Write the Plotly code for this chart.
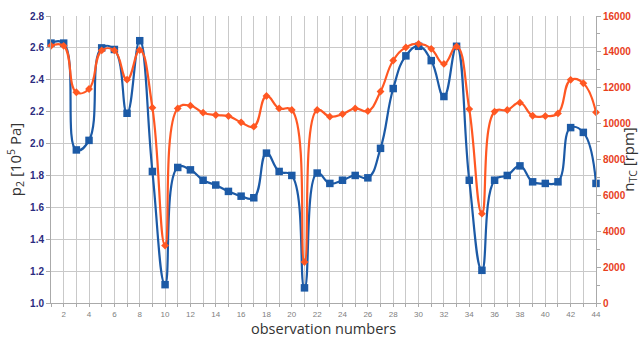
import plotly.graph_objects as go

# observation numbers 1..44
obs = list(range(1, 45))

# outlet pressure p2 [10^5 Pa]
p2 = [2.63, 2.63, 1.96, 2.02, 2.60, 2.59, 2.19, 2.645, 1.825, 1.115,
      1.85, 1.835, 1.77, 1.74, 1.70, 1.67, 1.66, 1.94, 1.825, 1.80,
      1.095, 1.815, 1.75, 1.77, 1.80, 1.785, 1.97, 2.345, 2.55, 2.61,
      2.52, 2.295, 2.61, 1.77, 1.205, 1.77, 1.80, 1.86, 1.76, 1.75,
      1.76, 2.10, 2.07, 1.75]

# turbocharger speed n_TC [rpm]
n_tc = [14340, 14340, 11750, 11930, 14080, 14080, 12450, 14100, 10890, 3200,
        10850, 11000, 10610, 10480, 10420, 10070, 9830, 11540, 10850, 10760,
        2280, 10760, 10390, 10530, 10850, 10700, 11790, 13520, 14250, 14450,
        14170, 13330, 14300, 10810, 4980, 10670, 10760, 11170, 10440, 10420,
        10570, 12440, 12250, 10630]

BLUE = "#1c5aa6"
ORANGE = "#ff5722"
GRID = "#c9c9c9"

fig = go.Figure()

fig.add_trace(go.Scatter(
    x=obs, y=p2, mode="lines+markers", yaxis="y",
    line=dict(color=BLUE, width=2.2, shape="spline", smoothing=1.3),
    marker=dict(symbol="square", size=7.5, color=BLUE),
    cliponaxis=False, showlegend=False,
))

fig.add_trace(go.Scatter(
    x=obs, y=n_tc, mode="lines+markers", yaxis="y2",
    line=dict(color=ORANGE, width=2.2, shape="spline", smoothing=1.3),
    marker=dict(symbol="diamond", size=6, color=ORANGE),
    cliponaxis=False, showlegend=False,
))

fig.update_layout(
    width=640, height=338,
    margin=dict(l=51, r=44, t=16, b=35),
    paper_bgcolor="white", plot_bgcolor="white",
    xaxis=dict(
        range=[1, 44], tick0=2, dtick=2, automargin=False,
        showgrid=True, gridcolor=GRID, gridwidth=1.2,
        minor=dict(dtick=1, tick0=1, showgrid=True, gridcolor=GRID, gridwidth=1.2,
                   ticks="outside", ticklen=3, tickcolor="#aaaaaa"),
        ticks="outside", ticklen=3, tickcolor="#aaaaaa",
        showline=True, linecolor="#aaaaaa", linewidth=1,
        zeroline=False,
        tickfont=dict(family="Liberation Sans, Arial", size=8, color="#808080"),
    ),
    yaxis=dict(
        range=[1.0, 2.8], dtick=0.2, tickformat=".1f", automargin=False,
        showgrid=True, gridcolor=GRID, gridwidth=1.2,
        ticks="outside", ticklen=4, tickcolor="#aaaaaa",
        showline=True, linecolor="#aaaaaa", linewidth=1,
        zeroline=False,
        tickfont=dict(family="Liberation Sans, Arial", size=10, color="#2b2b80", weight="bold"),
        title=dict(text="p<sub>2</sub> [10<sup>5</sup> Pa]", standoff=4,
                   font=dict(family="Open Sans", size=15, color="#333333")),
    ),
    yaxis2=dict(
        range=[0, 16000], dtick=2000, tickformat="d", automargin=False,
        overlaying="y", side="right",
        showgrid=False, zeroline=False,
        ticks="outside", ticklen=4, tickcolor="#aaaaaa",
        minor=dict(dtick=1000, ticks="outside", ticklen=3, tickcolor="#aaaaaa"),
        showline=True, linecolor="#aaaaaa", linewidth=1,
        tickfont=dict(family="Liberation Sans, Arial", size=10, color="#e8401c", weight="bold"),
        title=dict(text="n<sub>TC</sub> [rpm]", standoff=6,
                   font=dict(family="Open Sans", size=15, color="#333333")),
    ),
    annotations=[dict(
        text="observation numbers", xref="paper", yref="paper",
        x=0.5, y=-0.052, xanchor="center", yanchor="top", showarrow=False,
        borderpad=0, font=dict(family="Open Sans", size=14.5, color="#333333"),
    )],
)

fig.write_html("out.html")
